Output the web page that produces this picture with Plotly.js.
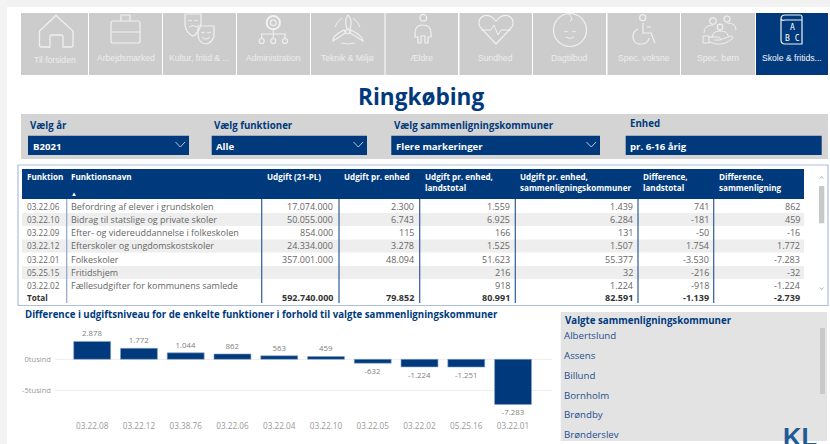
<!DOCTYPE html>
<html><head><meta charset="utf-8">
<script src="https://cdn.plot.ly/plotly-3.0.1.min.js"></script>
<style>html,body{margin:0;padding:0;background:#fff;overflow:hidden}#c{width:830px;height:444px}</style>
</head><body><div id="c"></div>
<script>
// ---- chart data ----
const barCategories = ['03.22.08','03.22.12','03.38.76','03.22.06','03.22.04','03.22.10','03.22.05','03.22.02','05.25.16','03.22.01'];
const barValues = [2878,1772,1044,862,563,459,-632,-1224,-1251,-7283];
const yTickVals = [0,-5000];
const yTickText = ['0tusind','-5tusind'];
// ---- table data ----
const tableHeaders = ['Funktion','Funktionsnavn','Udgift (21-PL)','Udgift pr. enhed','Udgift pr. enhed,<br>landstotal','Udgift pr. enhed,<br>sammenligningskommuner','Difference,<br>landstotal','Difference,<br>sammenligning'];
const colFunktion = ['03.22.06','03.22.10','03.22.09','03.22.12','03.22.01','05.25.15','03.22.02','Total'];
const colNavn = ['Befordring af elever i grundskolen','Bidrag til statslige og private skoler','Efter- og videreuddannelse i folkeskolen','Efterskoler og ungdomskostskoler','Folkeskoler','Fritidshjem','Fællesudgifter for kommunens samlede',''];
const colUdgift = ['17.074.000','50.055.000','854.000','24.334.000','357.001.000','','','592.740.000'];
const colEnhed = ['2.300','6.743','115','3.278','48.094','','','79.852'];
const colLand = ['1.559','6.925','166','1.525','51.623','216','918','80.991'];
const colSam = ['1.439','6.284','131','1.507','55.377','32','1.224','82.591'];
const colDiffLand = ['741','-181','-50','1.754','-3.530','-216','-918','-1.139'];
const colDiffSam = ['862','459','-16','1.772','-7.283','-32','-1.224','-2.739'];
// ---- labels ----
const navLabels = ['Til forsiden','Arbejdsmarked','Kultur, fritid & ...','Administration','Teknik & Miljø','Ældre','Sundhed','Dagtilbud','Spec. voksne','Spec. børn','Skole & fritids...'];
const filterLabels = ['Vælg år','Vælg funktioner','Vælg sammenligningskommuner','Enhed'];
const filterValues = ['B2021','Alle','Flere markeringer','pr. 6-16 årig'];
const listTitle = 'Valgte sammenligningskommuner';
const listItems = ['Albertslund','Assens','Billund','Bornholm','Brøndby','Brønderslev'];

// ---- layout geometry (page pixels) ----
const BLUE='#003a7d', GREY='#cccccc';
const FONT='"Open Sans","Noto Sans",sans-serif', ARIAL='"Liberation Sans",Arial,sans-serif';
const navX=[[21,88],[89,162],[163,236],[237,310],[311,384.5],[385.5,458],[459.5,532],[533,606],[607.5,680],[681,755],[756,828]];
const navTextY=[60,58,58,58,58,58,58,58,58,58,58];
const colX=[22,66.7,261.7,339,419.7,515.3,638,713.7,804];
const colPad=[0,0,4.7,4.7,4.3,4,4,2.7];
const rowY=[206.3,219.2,232.7,245.7,259,272.7,285.5,297];
const rowTop=[199,213,226,239.5,252.5,266,279,290,303];
const filterX=[[28,189],[211.7,367],[391.3,600],[625.7,821.7]];
const filterLabelX=[29,213,393,628.5];
const filterLabelY=[125,125,125,123.5];
const listY=[336.7,357,377,396.5,416,435.5];

const shapes=[], ann=[];
const R=(x0,y0,x1,y1,c,lc,lw)=>shapes.push({type:'rect',xref:'x2',yref:'y2',x0,y0,x1,y1,fillcolor:c,line:{color:lc||c,width:lw===undefined?0:lw},layer:'below'});
const L=(x0,y0,x1,y1,c,w)=>shapes.push({type:'line',xref:'x2',yref:'y2',x0,y0,x1,y1,line:{color:c,width:w||1},layer:'below'});
const P=(d,c,w,f)=>shapes.push({type:'path',xref:'x2',yref:'y2',path:d,line:{color:c,width:w||1.2},fillcolor:f||'rgba(0,0,0,0)',layer:'below'});
const C=(cx,cy,r,c,w)=>shapes.push({type:'circle',xref:'x2',yref:'y2',x0:cx-r,x1:cx+r,y0:cy-r,y1:cy+r,line:{color:c,width:w||1.2},fillcolor:'rgba(0,0,0,0)',layer:'below'});
const T=(x,y,text,o)=>ann.push(Object.assign({xref:'x2',yref:'y2',x,y,text,showarrow:false,xanchor:'left',yanchor:'middle',borderpad:0,font:{family:FONT,size:10,color:'#666'}},o||{}));

// page bands
R(0,0,830,7,'#f2f2f2');
R(0,0,7,444,'#f3f3f3');

// nav buttons
navX.forEach((b,i)=>{
  R(b[0],13,b[1],75,i===10?BLUE:GREY);
  T((b[0]+b[1])/2,navTextY[i],navLabels[i],{xanchor:'center',font:{family:ARIAL,size:8.6,color:i===10?'#f4f6fa':'#ececec'}});
});

// icons (decorative line drawings)
const W='#f0f0f0';
P('M39.5,31 L56,15.5 L73,31 V45 Q73,47 71,47 H63 V37 Q63,35 61,35 H52 Q50,35 50,37 V47 H41 Q39.5,47 39.5,45 Z',W,1.3);
P('M111,23 Q111,21 113,21 H138 Q140,21 140,23 V41 Q140,43 138,43 H113 Q111,43 111,41 Z',W);
P('M121,21 V15 H130 V21',W); L(111,32,140,32,W);
P('M185,14 H201 V24 Q199,33 193,36 Q186,33 185,25 Z',W);
P('M198,26 H214 V36 Q212,43 206,44 Q199,43 198,36 Z',W);
P('M188,21 Q190,19 192,21 M194,21 Q196,19 198,21 M189,27 Q193,24 197,27 M201,32 Q203,34 205,32 M207,32 Q209,34 211,32 M202,37 Q206,41 210,37',W,1);
C(273.3,22.7,2.8,W); C(273.3,22.7,6.6,W,2);
L(273.3,30,273.3,38.5,W); P('M261.7,38.5 V34 H285 V38.5',W);
C(261.7,41,2.5,W); C(273.3,41,2.5,W); C(285,41,2.5,W);
C(347.7,31.5,2.2,W);
P('M347,29 Q344,20 348,15 Q353,20 350,29 Z',W);
P('M345.5,33 Q338,38 333,41 Q332,36 344,30 Z',W);
P('M350,33 Q357,37 363,41 Q363,36 351,30 Z',W);
P('M335,27 Q337,21 342,18 M334,38 M353,18 Q358,21 360,27 M341,43 Q348,45 355,43',W,1);
C(423.3,17.7,3.3,W);
P('M415,33 Q415,25 423,25 Q431,25 431,33 V37 H428 V43 H425 V36 H421 V43 H418 V37 H415 Z',W);
P('M496,44 L480,27 C475,17 488,10 496,21 C504,10 517,17 512,27 Z',W);
P('M481,30 H491 L494,25 L498,35 L501,30 H511',W,1);
C(570,30,16.5,W);
P('M564,31 Q566,33 568,31 M572,31 Q574,33 576,31 M566,37 Q570,40 574,37 M569,14 Q574,20 570,21',W,1);
C(642.7,17.7,3,W);
P('M643,23 V33 H651 L655,43 M647,27 H651 M638,29 C630,33 632,45 641,44 C646,44 649,41 649,38',W);
C(713,21,3.2,W); C(727,19,3,W); C(720,27,2.8,W);
P('M704,33 Q704,25 713,25 M736,30 Q736,23 727,23 M712,38 Q712,31 720,31 Q728,31 728,36',W,1);
P('M703,36 H709 V43 H703 Z M709,37 H717 Q722,38 720,40 H714 M720,40 L731,36 Q734,36 732,39 Q725,45 716,44 L709,42',W,1);
P('M781,19 Q781,15 785,15 H800 Q802,15 802,17 V44 H785 Q781,44 781,40 Z M781,19 Q782,21 785,20 H802',W);
T(792,27,'A',{xanchor:'center',font:{family:'"DejaVu Sans Mono",monospace',size:8,color:'#fff'}});
T(792,38.5,'B C',{xanchor:'center',font:{family:'"DejaVu Sans Mono",monospace',size:8,color:'#fff'}});

// title
T(421,96,'<b>Ringkøbing</b>',{xanchor:'center',font:{family:FONT,size:22.6,color:BLUE}});

// filter panel
R(21,114,828,159,'#d4d4d4');
filterX.forEach((b,i)=>{
  R(b[0],135.7,b[1],155,BLUE);
  T(filterLabelX[i],filterLabelY[i],'<b>'+filterLabels[i]+'</b>',{font:{family:FONT,size:9.7,color:BLUE}});
  T(b[0]+3.5,146,'<b>'+filterValues[i]+'</b>',{font:{family:FONT,size:9.6,color:'#fff'}});
  if(i<3) P('M'+(b[1]-13.5)+',142 L'+(b[1]-8.7)+',147 L'+(b[1]-4)+',142','#b9c7dc',1);
});

// table
R(18,165,828,305.5,'#ffffff','#aebfdb',1.2);
R(colX[0],169,colX[8],199,BLUE);
for(let r=0;r<7;r++) if(r%2===1) R(colX[0],rowTop[r],colX[8],rowTop[r+1],'#eeeeee');
colX.slice(2,8).forEach(x=>L(x,199,x,303,'#2f5c99',1.2));
L(colX[1],199,colX[1],303,'#8ca6c9',1.2);
tableHeaders.forEach((h,i)=>{
  const two=h.indexOf('<br>')>=0;
  T(colX[i]+(i<2?3.6:4),two?181.5:176,'<b>'+h+'</b>',{align:'left',font:{family:FONT,size:8.1,color:'#fff'}});
});
T(70,194,'▲',{font:{family:FONT,size:6,color:'#fff'}});
const tableCols=[colFunktion,colNavn,colUdgift,colEnhed,colLand,colSam,colDiffLand,colDiffSam];
tableCols.forEach((col,c)=>{
  col.forEach((v,r)=>{
    if(v==='') return;
    const tot=r===7;
    const txt=tot?'<b>'+v+'</b>':v;
    if(c<2) T(colX[c]+3.6,rowY[r],txt,{font:{family:FONT,size:c===0?8.2:9,color:tot?'#333':'#666'}});
    else T(colX[c+1]-colPad[c],rowY[r],txt,{xanchor:'right',font:{family:FONT,size:9,color:tot?'#333':'#666'}});
  });
});
// table scrollbar
R(819,186,824.3,223.3,'#c8c8c8');
P('M820,178.5 L821.7,176.5 L823.4,178.5','#999',0.8);
P('M820,287.5 L821.7,289.5 L823.4,287.5','#999',0.8);

// chart title
T(23.5,314,'<b>Difference i udgiftsniveau for de enkelte funktioner i forhold til valgte sammenligningskommuner</b>',{font:{family:FONT,size:9.67,color:BLUE}});

// list panel
R(560.7,312,827,441,'#e3e3e3');
R(820,328,825,394,'#c9c9c9');
T(564,320,'<b>'+listTitle+'</b>',{font:{family:FONT,size:9.7,color:BLUE}});

// KL logo
T(800,436.5,'<b>KL</b>',{xanchor:'center',font:{family:ARIAL,size:25.5,color:'#1f5a94'}});

// bar axes: pixel box of the plot
const px0=55,px1=551.7,py0=330,py1=419.5;
const H=444,Wd=830;
const zeroY=359.3, pxPerUnit=0.0062;

const traces=[
 {type:'bar',x:barCategories,y:barValues,xaxis:'x',yaxis:'y',
  marker:{color:BLUE,line:{color:'#8aa3c7',width:0.6}},
  text:barValues.map(v=>v.toLocaleString('da-DK')),textposition:'outside',cliponaxis:false,
  textfont:{family:FONT,size:7.8,color:'#808080'},hoverinfo:'skip'},
 {type:'scatter',mode:'none',x:[0],y:[0],xaxis:'x2',yaxis:'y2',hoverinfo:'skip',showlegend:false},
 {type:'scatter',mode:'text',x:listItems.map(()=>564),y:listY,text:listItems,textposition:'middle right',
  textfont:{family:FONT,size:9.7,color:'#1f4f8f'},xaxis:'x3',yaxis:'y3',hoverinfo:'skip',showlegend:false,cliponaxis:true}
];
const layout={
 width:Wd,height:H,margin:{l:0,r:0,t:0,b:0},showlegend:false,
 paper_bgcolor:'#ffffff',plot_bgcolor:'rgba(0,0,0,0)',bargap:0.21,
 shapes,annotations:ann,
 xaxis:{domain:[px0/Wd,px1/Wd],type:'category',range:[-0.795,9.827],showgrid:false,zeroline:false,showline:false,ticks:'',
   tickfont:{family:FONT,size:8.2,color:'#999'},anchor:'y',fixedrange:true,automargin:false},
 yaxis:{domain:[1-py1/H,1-py0/H],range:[(zeroY-py1)/pxPerUnit,(zeroY-py0)/pxPerUnit],tickvals:yTickVals,ticktext:yTickText,ticklabelstandoff:3,
   gridcolor:'#eeeeee',gridwidth:1,zeroline:false,showline:false,ticks:'',tickfont:{family:FONT,size:7.6,color:'#999'},anchor:'x',fixedrange:true,automargin:false},
 xaxis2:{domain:[0,1],range:[0,Wd],visible:false,fixedrange:true,anchor:'y2'},
 yaxis2:{domain:[0,1],range:[H,0],visible:false,fixedrange:true,anchor:'x2'},
 xaxis3:{domain:[0,1],range:[0,Wd],visible:false,fixedrange:true,anchor:'y3'},
 yaxis3:{domain:[(H-441)/H,1],range:[441,0],visible:false,fixedrange:true,anchor:'x3'}
};
Plotly.newPlot('c',traces,layout,{displayModeBar:false,staticPlot:true});
</script></body></html>
